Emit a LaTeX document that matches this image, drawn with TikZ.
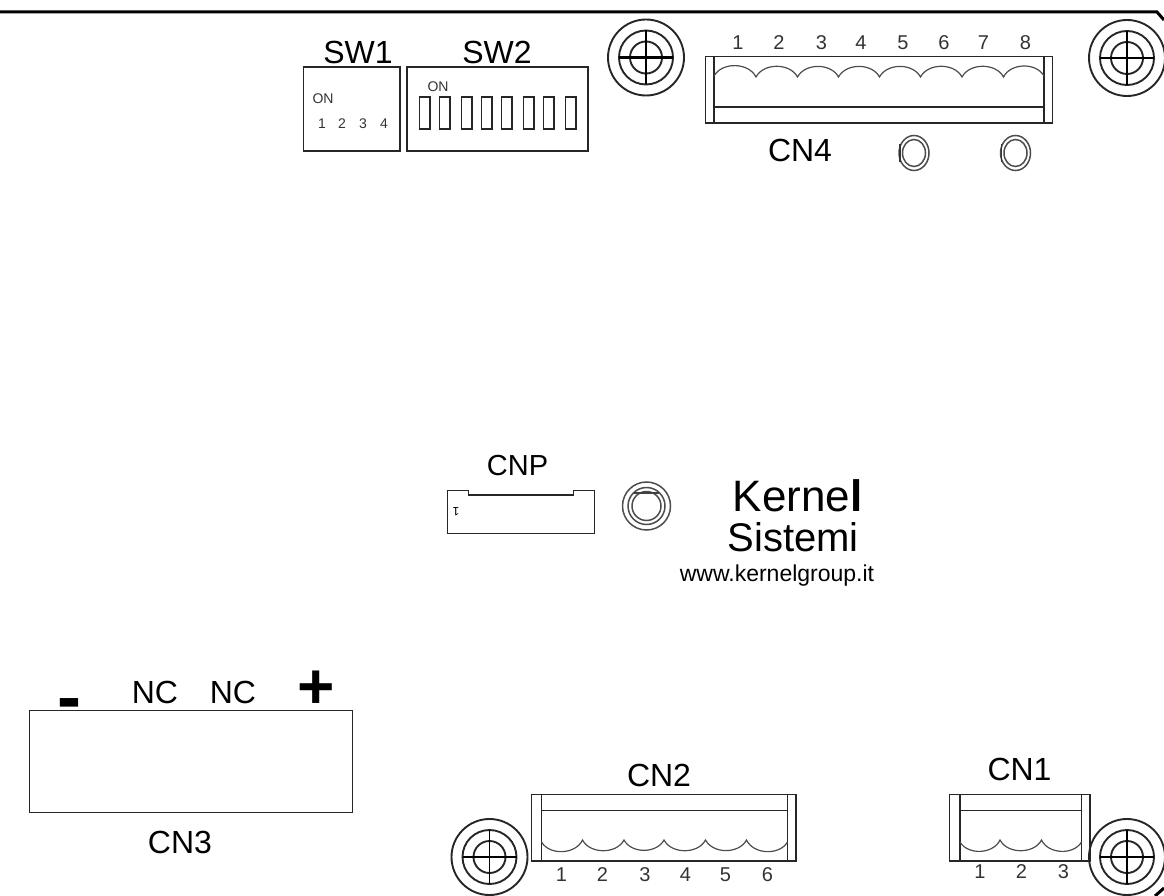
\documentclass[tikz,border=0pt]{standalone}
\usepackage{fontspec}
\setmainfont{Liberation Sans}
\usetikzlibrary{positioning, shapes.geometric}

\tikzset{
    part/.style={draw=black!85, line width=1.9pt},
    wave/.style={draw=black!70, line width=1.2pt},
    lbl/.style={inner sep=0pt, font=\fontsize{32}{32}\selectfont},
    sublbl/.style={inner sep=0pt, font=\fontsize{29}{29}\selectfont},
    pin/.style={inner sep=0pt, text=black!80, font=\fontsize{20}{20}\selectfont},
    tiny/.style={inner sep=0pt, text=black!80, font=\fontsize{14}{14}\selectfont},
    ring/.style={draw=black!85, line width=1.9pt, circle, inner sep=0pt, minimum size=#1},
    hole/.style={draw=black!70, line width=1.5pt, inner sep=0pt}
}

% screw with three rings and a cross
\newcommand{\screwmark}[3]{
    \node[ring=76pt] (#1) at (#2,#3) {};
    \node[ring=54pt] at (#1) {};
    \node[ring=32pt] at (#1) {};
    \draw[line width=2.4pt] ([xshift=-27pt]#1.center) -- ([xshift=27pt]#1.center);
    \draw[line width=1.7pt] ([yshift=-27pt]#1.center) -- ([yshift=27pt]#1.center);
}

% terminal block: left, top, right, bottom, inner left, inner right, bar height
\newcommand{\terminal}[7]{
    \draw[part] (#1,#2) rectangle (#3,#4);
    \draw[part] (#5,#2) -- (#5,#4);
    \draw[part] (#6,#2) -- (#6,#4);
    \draw[part] (#5,#7) -- (#6,#7);
}

\begin{document}
\begin{tikzpicture}[x=1pt, y=-1pt]
    \useasboundingbox (0,0) rectangle (1164,896);

    % board edge
    \draw[line width=3pt] (0,12) -- (1157,12) -- (1164,20);
    \draw[line width=3pt] (1155,896) -- (1164,888);

    % switches
    \draw[part] (303.5,67) rectangle (400,151);
    \draw[part] (407,67) rectangle (588,151);
    \node[lbl] (swone) at (358,52) {SW1};
    \node[lbl] (swtwo) at (497,52) {SW2};
    \node[tiny] (onone) at (323,99) {ON};
    \node[tiny] (ontwo) at (438,87) {ON};
    \foreach \x/\n in {322/1, 342/2, 363/3, 384/4}
        \node[tiny] (swpin\n) at (\x,124) {\n};
    \foreach \x in {419.5, 439.5, 461.5, 481.5, 501.5, 523.5, 543.5, 565.5}
        \draw[part] (\x,97) rectangle ++(10.5,32);

    \screwmark{screwa}{646}{57.5}
    \screwmark{screwb}{1127}{58}
    \screwmark{screwc}{489.5}{857}
    \screwmark{screwd}{1127}{857}

    % CN4
    \terminal{705.5}{56.5}{1052.5}{123}{714}{1044}{107}
    \draw[wave] (714,76)
        \foreach \x in {756, 797.5, 838.5, 879.5, 920.5, 962, 1003.5} {
            to[bend left=62] (\x,77)
        } to[bend left=62] (1044,76);
    \foreach \x/\n in {738/1, 779/2, 821.5/3, 861/4, 903/5, 944/6, 983.5/7, 1025.5/8}
        \node[pin] (cnfour\n) at (\x,42.5) {\n};
    \node[lbl] (cnfour) at (800,150) {CN4};

    % holes
    \foreach \x/\n in {914/a, 1015.5/b} {
        \node[hole, ellipse, minimum width=30pt, minimum height=35pt] (hole\n) at (\x,153) {};
        \node[hole, ellipse, minimum width=23pt, minimum height=27pt] at (hole\n) {};
        \draw[black!80, line width=1.6pt] ([xshift=-14pt,yshift=-9pt]hole\n.center) -- ([xshift=-14pt,yshift=9pt]hole\n.center);
    }

    % CNP
    \draw[part] (447.5,490.5) -- (468.5,490.5) -- (468.5,495) -- (573.5,495) -- (573.5,490.5)
        -- (594.5,490.5) -- (594.5,533.5) -- (447.5,533.5) -- cycle;
    \node[sublbl] (cnp) at (517.5,466) {CNP};
    \node[inner sep=0pt, rotate=180, font=\fontsize{12}{12}\selectfont] (cnppin) at (456,511.5) {1};
    \node[hole, circle, minimum size=48pt] (holec) at (646.5,506) {};
    \node[hole, circle, minimum size=37pt] at (holec) {};
    \node[hole, circle, minimum size=29pt] at (holec) {};
    \draw[black!75, line width=1.6pt] (634,493) -- (659,493);

    % logo
    \node[inner sep=0pt, anchor=base, font=\fontsize{44}{44}\selectfont] (kernel) at (797.5,511.5) {Kerne\textbf{l}};
    \node[inner sep=0pt, anchor=base, font=\fontsize{40}{40}\selectfont] (sistemi) at (793,551.5) {Sistemi};
    \node[inner sep=0pt, anchor=base, font=\fontsize{23}{23}\selectfont] (site) at (777,581.5) {www.kernelgroup.it};

    % CN3
    \draw[part] (29.5,710.5) rectangle (352.5,812.5);
    \node[inner sep=0pt, anchor=base, font=\bfseries\fontsize{72}{72}\selectfont] (minus) at (69,721) {-};
    \node[lbl] (nca) at (155,692) {NC};
    \node[lbl] (ncb) at (233,692) {NC};
    \node[inner sep=0pt, font=\bfseries\fontsize{64}{64}\selectfont] (plus) at (316,690) {+};
    \node[lbl] (cnthree) at (180,842) {CN3};

    % CN2
    \terminal{531.5}{794.5}{796}{861}{541.5}{787.5}{810.5}
    \draw[wave] (541.5,842)
        \foreach \x in {582.5, 624, 664, 705.5, 746.5} {
            to[bend right=62] (\x,840)
        } to[bend right=62] (787.5,842);
    \foreach \x/\n in {561.5/1, 602.5/2, 645/3, 685.5/4, 725.5/5, 767.5/6}
        \node[pin] (cntwo\n) at (\x,875) {\n};
    \node[lbl] (cntwo) at (659,775) {CN2};

    % CN1
    \terminal{949.5}{794.5}{1090}{861}{960}{1081.5}{810.5}
    \draw[wave] (960,842)
        \foreach \x in {1000, 1041.5} {
            to[bend right=62] (\x,840)
        } to[bend right=62] (1081.5,842);
    \foreach \x/\n in {980/1, 1021.5/2, 1063.5/3}
        \node[pin] (cnone\n) at (\x,872) {\n};
    \node[lbl] (cnone) at (1019.5,769) {CN1};
\end{tikzpicture}
\end{document}
